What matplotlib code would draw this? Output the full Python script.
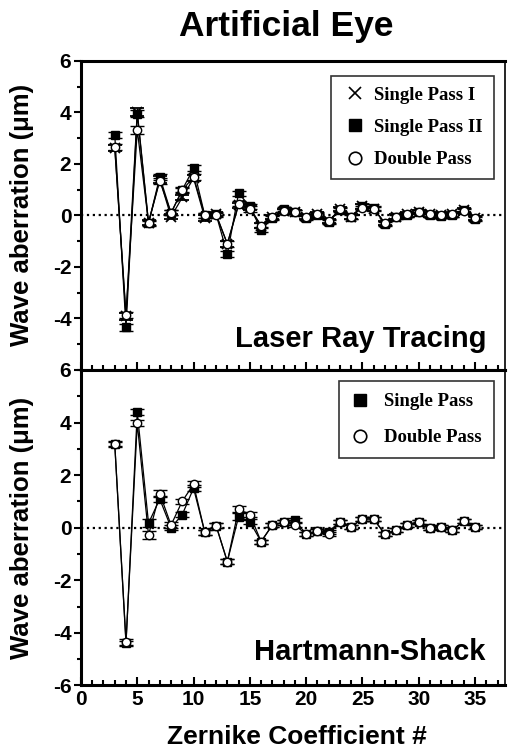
"""
Artificial eye: Zernike wave aberration measured with Laser Ray Tracing
(single pass I/II, double pass) and Hartmann-Shack (single/double pass).
"""

import matplotlib
matplotlib.use("Agg")
import matplotlib.pyplot as plt
from matplotlib.lines import Line2D
from matplotlib.ticker import MultipleLocator

plt.rcParams["font.family"] = ["Liberation Sans", "DejaVu Sans"]
plt.rcParams["font.weight"] = "bold"
plt.rcParams["axes.unicode_minus"] = False

# Zernike coefficient index
zernike = list(range(3, 36))

# ── Laser Ray Tracing ─────────────────────────────────────────────────────────
lrt_single1 = [2.63, -3.92, 4.03, -0.28, 1.40, -0.05, 0.70, 1.45, -0.10, 0.05,
               -1.10, 0.40, 0.30, -0.39, -0.07, 0.17, 0.13, -0.07, 0.04, -0.22,
               0.24, -0.04, 0.35, 0.26, -0.30, -0.04, 0.04, 0.13, 0.04, 0.00,
               0.04, 0.20, -0.09]
lrt_single2 = [3.14, -4.35, 3.96, -0.30, 1.50, 0.10, 1.00, 1.83, 0.00, 0.05,
               -1.50, 0.87, 0.35, -0.56, -0.10, 0.26, 0.15, -0.10, 0.02, -0.25,
               0.22, -0.06, 0.38, 0.28, -0.32, -0.05, 0.02, 0.15, 0.02, -0.03,
               0.02, 0.22, -0.12]
lrt_double = [2.65, -3.85, 3.33, -0.28, 1.35, 0.10, 0.98, 1.50, 0.00, 0.02,
              -1.10, 0.45, 0.25, -0.39, -0.07, 0.17, 0.13, -0.07, 0.04, -0.22,
              0.24, -0.04, 0.30, 0.26, -0.30, -0.04, 0.04, 0.13, 0.04, 0.00,
              0.04, 0.18, -0.09]
lrt_err = [0.12, 0.12, 0.15, 0.10, 0.12, 0.10, 0.10, 0.12, 0.10, 0.08,
           0.12, 0.10, 0.10, 0.10, 0.08, 0.08, 0.08, 0.08, 0.08, 0.08,
           0.08, 0.08, 0.08, 0.08, 0.08, 0.08, 0.08, 0.08, 0.08, 0.08,
           0.08, 0.08, 0.08]

# ── Hartmann-Shack ────────────────────────────────────────────────────────────
hs_single = [3.17, -4.40, 4.39, 0.17, 1.09, 0.00, 0.50, 1.50, -0.18, 0.08,
             -1.29, 0.42, 0.23, -0.53, 0.10, 0.20, 0.29, -0.25, -0.13, -0.15,
             0.23, 0.04, 0.33, 0.33, -0.25, -0.09, 0.10, 0.23, 0.00, 0.04,
             -0.09, 0.25, 0.04]
hs_double = [3.20, -4.35, 3.97, -0.28, 1.30, 0.10, 1.01, 1.65, -0.18, 0.08,
             -1.29, 0.70, 0.50, -0.53, 0.10, 0.20, 0.10, -0.25, -0.13, -0.25,
             0.23, 0.04, 0.33, 0.33, -0.25, -0.09, 0.10, 0.23, 0.00, 0.04,
             -0.09, 0.25, 0.04]
hs_err = [0.10, 0.10, 0.12, 0.15, 0.12, 0.10, 0.10, 0.12, 0.08, 0.08,
          0.10, 0.12, 0.10, 0.08, 0.08, 0.08, 0.08, 0.08, 0.08, 0.08,
          0.08, 0.08, 0.08, 0.08, 0.08, 0.08, 0.08, 0.08, 0.08, 0.08,
          0.08, 0.08, 0.08]


def style_axes(ax, show_xlabels):
    ax.set_xlim(0, 37.66)
    ax.set_ylim(-6, 6)
    ax.xaxis.set_major_locator(MultipleLocator(5))
    ax.xaxis.set_minor_locator(MultipleLocator(1))
    ax.yaxis.set_major_locator(MultipleLocator(2))
    ax.yaxis.set_minor_locator(MultipleLocator(1))
    ax.tick_params(axis="x", which="both", direction="in", top=False,
                   labelbottom=show_xlabels, labelsize=15, width=1.5)
    ax.tick_params(axis="x", which="major", length=6)
    ax.tick_params(axis="x", which="minor", length=3.5)
    ax.tick_params(axis="y", which="both", direction="out", right=False,
                   labelsize=15, width=1.5, pad=2)
    ax.tick_params(axis="y", which="major", length=5)
    ax.tick_params(axis="y", which="minor", length=3)
    for side in ["left", "bottom", "top"]:
        ax.spines[side].set_linewidth(2.2)
    ax.spines["right"].set_linewidth(1.2)
    ax.axhline(0, color="black", linestyle=":", linewidth=1.6, zorder=1)


def series(ax, y, err, marker, face, ms, mew=1.0):
    ax.errorbar(zernike, y, yerr=err, color="black", linewidth=0.9,
                elinewidth=0.9, capsize=5, capthick=1.2, marker=marker,
                markersize=ms, markerfacecolor=face, markeredgecolor="black",
                markeredgewidth=mew, zorder=3)


fig = plt.figure(figsize=(5.08, 7.52), dpi=100)
ax1 = fig.add_axes([0.1594, 0.508, 0.8346, 0.4109])
ax2 = fig.add_axes([0.1594, 0.0886, 0.8346, 0.4194])

serif = {"family": "Liberation Serif", "weight": "bold", "size": 13.5}

# ── Laser Ray Tracing panel ──────────────────────────────────────────────────
style_axes(ax1, False)
series(ax1, lrt_single1, lrt_err, "x", "black", 7, 1.3)
series(ax1, lrt_single2, lrt_err, "s", "black", 6)
series(ax1, lrt_double, lrt_err, "o", "white", 6)
ax1.set_yticks([-4, -2, 0, 2, 4, 6])
ax1.text(0.9575, 0.074, "Laser Ray Tracing", transform=ax1.transAxes,
         ha="right", va="baseline", fontsize=21, fontweight="bold")
h1 = [Line2D([], [], linestyle="none", marker="x", color="black",
             markersize=8, markeredgewidth=1.2),
      Line2D([], [], linestyle="none", marker="s", color="black",
             markersize=9),
      Line2D([], [], linestyle="none", marker="o", markerfacecolor="white",
             markeredgecolor="black", markersize=9, markeredgewidth=1.2)]
leg1 = ax1.legend(h1, ["Single Pass I", "Single Pass II", "Double Pass"],
                  loc="upper right", bbox_to_anchor=(0.973, 0.953),
                  prop=serif, frameon=True, fancybox=False, borderpad=0.6,
                  labelspacing=0.8, handletextpad=0.3, handlelength=1.4,
                  borderaxespad=0)
leg1.get_frame().set_edgecolor("black")
leg1.get_frame().set_linewidth(1.2)

# ── Hartmann-Shack panel ─────────────────────────────────────────────────────
style_axes(ax2, True)
series(ax2, hs_single, hs_err, "s", "black", 6)
series(ax2, hs_double, hs_err, "o", "white", 6)
ax2.text(0.953, 0.079, "Hartmann-Shack", transform=ax2.transAxes,
         ha="right", va="baseline", fontsize=21, fontweight="bold")
h2 = [Line2D([], [], linestyle="none", marker="s", color="black",
             markersize=9),
      Line2D([], [], linestyle="none", marker="o", markerfacecolor="white",
             markeredgecolor="black", markersize=9, markeredgewidth=1.2)]
leg2 = ax2.legend(h2, ["Single Pass", "Double Pass"],
                  loc="upper right", bbox_to_anchor=(0.973, 0.965),
                  prop=serif, frameon=True, fancybox=False, borderpad=0.65,
                  labelspacing=1.0, handletextpad=0.75, handlelength=1.0,
                  borderaxespad=0)
leg2.get_frame().set_edgecolor("black")
leg2.get_frame().set_linewidth(1.2)

# ── Figure labels ────────────────────────────────────────────────────────────
fig.text(0.563, 0.952, "Artificial Eye", ha="center", va="baseline",
         fontsize=25.5, fontweight="bold")
fig.text(0.585, 0.01, "Zernike Coefficient #", ha="center", va="baseline",
         fontsize=19, fontweight="bold")
fig.text(0.043, 0.714, "Wave aberration (\u03bcm)", ha="center", va="center",
         rotation=90, fontsize=18.5, fontweight="bold")
fig.text(0.043, 0.298, "Wave aberration (\u03bcm)", ha="center", va="center",
         rotation=90, fontsize=18.5, fontweight="bold")

fig.savefig("out.png", dpi=100)
